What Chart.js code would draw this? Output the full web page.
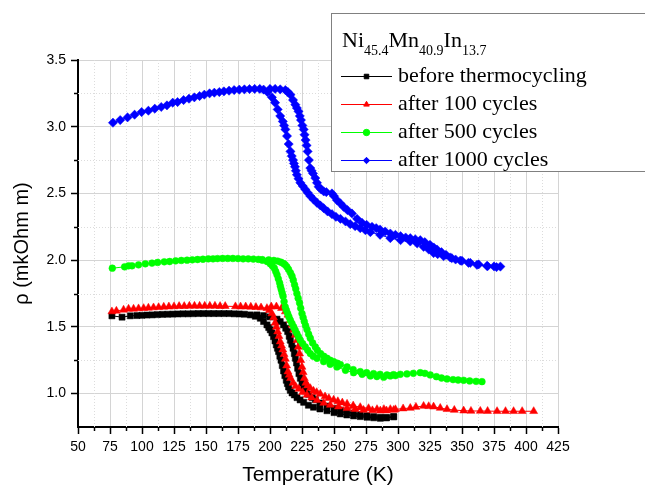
<!DOCTYPE html>
<html>
<head>
<meta charset="utf-8">
<script src="https://cdn.jsdelivr.net/npm/chart.js@4/dist/chart.umd.min.js"></script>
<style>
    html, body { margin: 0; padding: 0; background: #fff; }
</style>
</head>
<body>
<canvas id="rho_chart" width="645" height="485"></canvas>
<script>
// axis ticks
const xTicks = [50, 75, 100, 125, 150, 175, 200, 225, 250, 275, 300, 325, 350, 375, 400, 425];
const xMinorTicks = [62.5, 87.5, 112.5, 137.5, 162.5, 187.5, 212.5, 237.5, 262.5, 287.5, 312.5, 337.5, 362.5, 387.5, 412.5];
const yTicks = [1.0, 1.5, 2.0, 2.5, 3.0, 3.5];
const yMinorTicks = [1.25, 1.75, 2.25, 2.75, 3.25];

const legendTitle = [['Ni', false], ['45.4', true], ['Mn', false], ['40.9', true], ['In', false], ['13.7', true]];
const seriesNames = ['before thermocycling', 'after 100 cycles', 'after 500 cycles', 'after 1000 cycles'];
const seriesColors = ['#000000', '#ff0000', '#00ff00', '#0000ff'];
const seriesMarkers = ['rect', 'triangle', 'circle', 'rectRot'];

// [T (K), rho (mkOhm m)] - cooling branch (incl. low temperature part) and heating branch
const blackCooling = [[76.5,1.583],[84.4,1.573],[90.9,1.583],[96.1,1.585],[100,1.587],[104,1.589],[108,1.59],[112,1.592],[116,1.594],[120,1.595],[124,1.596],[128,1.597],[132,1.598],[136,1.598],[140,1.599],[144,1.6],[148,1.6],[152,1.6],[156,1.6],[160,1.6],[164,1.6],[168,1.6],[172,1.598],[176,1.597],[180,1.595],[184.6,1.59],[188.5,1.58],[192.4,1.565],[195,1.54],[197.6,1.515],[199,1.495],[200.2,1.478],[201.5,1.455],[202.8,1.427],[203.9,1.395],[204.9,1.365],[205.8,1.34],[206.7,1.315],[207.7,1.28],[208.6,1.25],[209.6,1.21],[210.6,1.17],[211.6,1.135],[212.7,1.10],[213.6,1.075],[214.5,1.05],[215.8,1.025],[217.2,1.005],[219,0.99],[221.1,0.97],[223.5,0.953],[226.3,0.935],[230,0.913],[234,0.898],[239,0.885],[244.5,0.872],[250,0.858],[254.9,0.848],[260,0.84],[265.3,0.833],[270.5,0.828],[275.8,0.823],[281,0.819],[286.2,0.815],[291,0.818],[296.6,0.827]];
const blackHeating = [[189.8,1.59],[195,1.585],[200,1.575],[205.5,1.558],[208,1.54],[210.6,1.515],[212.3,1.49],[213.8,1.465],[215,1.43],[215.9,1.40],[217,1.37],[218,1.34],[219,1.30],[219.8,1.265],[220.7,1.23],[221.6,1.19],[222.6,1.15],[223.7,1.115],[225,1.08],[226.3,1.045],[228,1.02],[230.2,0.995],[233,0.97],[235.4,0.955],[239,0.93],[244.5,0.907],[250,0.89],[254.9,0.877],[260,0.865],[265.3,0.853],[270.5,0.843],[275.8,0.835],[281,0.828],[286.2,0.823],[291,0.822],[296.6,0.827]];

const redCooling = [[76.5,1.615],[80,1.62],[85.6,1.628],[89.5,1.635],[93.4,1.635],[97.3,1.638],[101.3,1.64],[105,1.643],[109,1.645],[113,1.647],[117,1.65],[121,1.652],[125,1.653],[129,1.655],[133,1.655],[137,1.657],[141,1.657],[145,1.657],[149,1.657],[153,1.657],[157,1.657],[161,1.655],[165,1.655],[173,1.653],[177,1.652],[181,1.652],[185,1.65],[189,1.648],[193,1.645],[197.6,1.64],[199.5,1.625],[201.5,1.60],[202.8,1.57],[204,1.53],[205,1.50],[206,1.465],[207,1.43],[208,1.39],[209,1.36],[210,1.33],[211,1.295],[212,1.26],[213,1.21],[214,1.165],[215,1.14],[216,1.115],[218,1.08],[220,1.055],[222.5,1.035],[225.5,1.01],[228.9,0.99],[232.5,0.97],[236.7,0.95],[242,0.93],[247.1,0.915],[253.5,0.902],[260.2,0.89],[266.5,0.883],[273.1,0.877],[280,0.874],[286.2,0.872],[291,0.873],[296.6,0.877]];
const redHeating = [[201,1.652],[205,1.652],[209,1.64],[212,1.615],[214,1.59],[215.9,1.55],[217.3,1.515],[218.5,1.478],[219.8,1.44],[221.1,1.40],[222.1,1.35],[223.1,1.30],[224,1.25],[225,1.20],[225.9,1.16],[226.8,1.115],[228,1.08],[229.4,1.06],[231.5,1.04],[234,1.02],[236.5,1.01],[239.3,0.998],[243,0.978],[246,0.965],[249.7,0.953],[253,0.942],[256.5,0.932],[260.2,0.923],[265,0.91],[270.5,0.898],[277,0.89],[283.6,0.883],[289,0.883],[294,0.883],[298,0.882],[304,0.888],[309.6,0.892],[314,0.9],[320,0.907],[324,0.905],[327.8,0.902],[333,0.892],[338.3,0.883],[344,0.877],[351.3,0.872],[357,0.87],[364.3,0.87],[370,0.869],[377.4,0.868],[384,0.868],[390.3,0.868],[397,0.868],[406,0.868]];

const greenCooling = [[76.8,1.94],[86.4,1.95],[89.5,1.958],[92.2,1.958],[97.3,1.965],[102.6,1.973],[107.8,1.978],[112.2,1.983],[117.4,1.988],[121.6,1.99],[126.3,1.995],[130.7,1.998],[135.2,2.0],[139.3,2.003],[143.4,2.005],[147.6,2.007],[151.8,2.01],[155.5,2.01],[159,2.012],[163,2.013],[167,2.013],[171,2.013],[175,2.012],[179,2.01],[183,2.01],[187,2.008],[191,2.006],[194,2.0],[197.7,1.99],[200.2,1.973],[201.8,1.958],[203.4,1.94],[204.5,1.915],[205.5,1.89],[206.5,1.86],[207.5,1.83],[208.1,1.805],[208.8,1.78],[209.5,1.755],[210.2,1.73],[211,1.69],[211.9,1.65],[212.8,1.625],[213.8,1.60],[214.8,1.575],[215.9,1.55],[217.2,1.525],[218.5,1.50],[219.7,1.475],[221,1.45],[222.3,1.425],[223.7,1.40],[225.5,1.375],[227.6,1.35],[229.5,1.325],[231.5,1.30],[233.8,1.28],[236.7,1.265],[241.9,1.24],[247,1.22],[252.3,1.20],[259,1.175],[265.3,1.157],[272,1.145],[278.4,1.133],[283.5,1.128],[288.8,1.123],[294,1.133],[298,1.135]];
const greenHeating = [[194,2.004],[199,2.002],[203,1.998],[206,1.993],[208.5,1.985],[210.5,1.975],[211.9,1.965],[213.2,1.95],[214.5,1.93],[216,1.905],[217.2,1.88],[218.2,1.85],[219.2,1.815],[220.1,1.785],[221,1.75],[222,1.715],[223.1,1.68],[224,1.64],[225,1.60],[225.9,1.57],[226.8,1.54],[227.8,1.51],[228.9,1.48],[230.2,1.445],[231.5,1.415],[233.3,1.38],[235.4,1.35],[237,1.325],[239.5,1.30],[242,1.28],[244.5,1.265],[247,1.25],[249.7,1.24],[252.5,1.228],[255,1.218],[260.2,1.20],[265,1.18],[270.5,1.165],[275.5,1.157],[280.9,1.15],[286,1.145],[291.4,1.14],[296.5,1.142],[301.8,1.145],[307,1.148],[312,1.152],[317.4,1.157],[321,1.152],[325.2,1.14],[330,1.127],[334,1.117],[338.3,1.11],[343,1.105],[347,1.102],[351.3,1.10],[356,1.095],[361,1.092],[365.6,1.09]];

const blueCooling = [[77.3,3.03],[83,3.05],[88.7,3.07],[94.2,3.09],[99.7,3.11],[105,3.12],[110,3.135],[115,3.148],[119.5,3.16],[124,3.18],[127.8,3.185],[132.5,3.20],[136.7,3.21],[140.9,3.22],[145,3.23],[148.7,3.24],[152.8,3.25],[156.5,3.255],[160.4,3.26],[164,3.265],[168,3.27],[172,3.275],[176,3.278],[180,3.28],[184,3.282],[188,3.283],[192,3.283],[195,3.278],[198,3.26],[201.5,3.22],[204,3.18],[206,3.13],[208,3.08],[210,3.04],[211,3.01],[212,2.98],[213.3,2.93],[214.6,2.87],[216,2.815],[217,2.78],[218,2.75],[218.7,2.725],[219.5,2.70],[220.2,2.67],[221,2.64],[222.3,2.61],[223.7,2.58],[225.6,2.555],[227.6,2.53],[229.5,2.505],[231.5,2.48],[234,2.455],[236.7,2.43],[239.3,2.41],[241.9,2.39],[245,2.365],[248.4,2.345],[251.5,2.325],[255,2.31],[259,2.29],[262.7,2.27],[266.5,2.255],[270.5,2.24],[274.5,2.225],[278.4,2.21],[286,2.19],[294,2.165],[302,2.15],[309.6,2.14],[315,2.125],[320,2.10],[324,2.08],[327.8,2.053],[331,2.045],[335.6,2.03],[342,2.015],[348.7,1.997],[355,1.98],[361.7,1.965],[370,1.955],[377,1.948]];
const blueHeating = [[200,3.283],[204,3.283],[208,3.28],[212,3.275],[214,3.26],[216,3.24],[218,3.20],[219.8,3.165],[221,3.14],[222.3,3.115],[223.3,3.08],[224.2,3.05],[225.3,3.01],[226.3,2.98],[227,2.94],[227.8,2.90],[228.6,2.86],[229.4,2.815],[230.4,2.75],[231.5,2.69],[232.5,2.67],[233.6,2.65],[235.4,2.615],[236.7,2.58],[238,2.55],[240,2.53],[242,2.515],[244,2.51],[248.4,2.50],[250,2.48],[252.3,2.45],[255,2.425],[257.5,2.40],[260.5,2.375],[264,2.35],[268,2.31],[271.9,2.28],[275.5,2.265],[279.7,2.25],[283,2.24],[286,2.23],[290,2.215],[294,2.20],[298,2.19],[302,2.18],[306,2.17],[309.6,2.165],[313.5,2.157],[317.4,2.15],[321,2.135],[325,2.115],[328,2.095],[330.5,2.08],[334,2.06],[337.5,2.04],[340.8,2.02],[345,2.005],[350,1.995],[356.5,1.98],[363,1.968],[369.5,1.957],[375,1.953],[380,1.952]];

const seriesBranches = [
    [blackCooling, blackHeating],
    [redCooling, redHeating],
    [greenCooling, greenHeating],
    [blueCooling, blueHeating]
];
const markerRadius = [4.3, 4.6, 3.4, 4.6];

function toPoints(pairs) {
    return pairs.map(p => ({x: p[0], y: p[1]}));
}

let myDataSet = [];
for (let i = 0; i < seriesBranches.length; i++) {
    for (let j = 0; j < 2; j++) {
        myDataSet.push({
            label: seriesNames[i],
            data: toPoints(seriesBranches[i][j]),
            showLine: true,
            borderColor: seriesColors[i],
            backgroundColor: seriesColors[i],
            borderWidth: 1,
            pointStyle: seriesMarkers[i],
            pointRadius: markerRadius[i],
            pointBorderWidth: 0.5,
            order: seriesBranches.length - i   // blue on top, black at the bottom
        });
    }
}

// dotted minor grid + short minor ticks
const minorGrid = {
    id: 'minorGrid',
    beforeDatasetsDraw(chart) {
        const {ctx, chartArea: a, scales: {x, y}} = chart;
        ctx.save();
        ctx.strokeStyle = '#dcdcdc';
        ctx.lineWidth = 1;
        ctx.setLineDash([1, 2]);
        xMinorTicks.forEach(v => {
            const px = Math.round(x.getPixelForValue(v)) + 0.5;
            ctx.beginPath(); ctx.moveTo(px, a.top); ctx.lineTo(px, a.bottom); ctx.stroke();
        });
        yMinorTicks.forEach(v => {
            const py = Math.round(y.getPixelForValue(v)) + 0.5;
            ctx.beginPath(); ctx.moveTo(a.left, py); ctx.lineTo(a.right, py); ctx.stroke();
        });
        ctx.setLineDash([]);
        ctx.strokeStyle = '#000';
        ctx.lineWidth = 1.5;
        xMinorTicks.forEach(v => {
            const px = Math.round(x.getPixelForValue(v)) + 0.5;
            ctx.beginPath(); ctx.moveTo(px, a.bottom); ctx.lineTo(px, a.bottom + 4); ctx.stroke();
        });
        yMinorTicks.forEach(v => {
            const py = Math.round(y.getPixelForValue(v)) + 0.5;
            ctx.beginPath(); ctx.moveTo(a.left, py); ctx.lineTo(a.left - 4, py); ctx.stroke();
        });
        ctx.restore();
    }
};

// boxed legend with the alloy formula as its title
const legendBox = {
    id: 'legendBox',
    afterDraw(chart) {
        const ctx = chart.ctx;
        ctx.save();
        ctx.fillStyle = '#fff';
        ctx.fillRect(331, 13, 320, 159);
        ctx.strokeStyle = '#808080';
        ctx.lineWidth = 1;
        ctx.strokeRect(331.5, 13.5, 330, 158);

        ctx.fillStyle = '#000';
        ctx.textBaseline = 'alphabetic';
        let x = 342;
        legendTitle.forEach(([txt, sub]) => {
            ctx.font = sub ? '14px "Liberation Serif"' : '22px "Liberation Serif"';
            ctx.fillText(txt, x, sub ? 55 : 47);
            x += ctx.measureText(txt).width;
        });

        for (let i = 0; i < seriesNames.length; i++) {
            const ly = 76 + i * 28;
            ctx.strokeStyle = seriesColors[i];
            ctx.fillStyle = seriesColors[i];
            ctx.lineWidth = 1;
            ctx.beginPath(); ctx.moveTo(341, ly + 0.5); ctx.lineTo(392, ly + 0.5); ctx.stroke();
            Chart.helpers.drawPoint(ctx, {pointStyle: seriesMarkers[i], radius: 3.2, rotation: 0, borderWidth: 0.5}, 366.5, ly + 0.5);
            ctx.fillStyle = '#000';
            ctx.font = '22px "Liberation Serif"';
            ctx.fillText(seriesNames[i], 398, ly + 6);
        }
        ctx.restore();
    }
};

const ctx = document.getElementById('rho_chart');

new Chart(ctx, {
    type: 'scatter',
    data: { datasets: myDataSet },
    options: {
        responsive: false,
        animation: false,
        layout: { padding: { top: 60, right: 87, left: 0, bottom: 0 } },
        plugins: {
            legend: { display: false },
            tooltip: { enabled: false }
        },
        scales: {
            x: {
                type: 'linear',
                min: 50,
                max: 425,
                afterFit: scale => { scale.height = 58; },
                afterBuildTicks: scale => { scale.ticks = xTicks.map(v => ({value: v})); },
                border: { color: '#000', width: 2 },
                grid: { color: '#d4d4d4', lineWidth: 1, tickColor: '#000', tickLength: 7, tickWidth: 1.5 },
                ticks: {
                    autoSkip: false, maxRotation: 0, padding: 5, color: '#000',
                    font: { family: '"Liberation Sans", Arial', size: 14 },
                    callback: v => String(v)
                },
                title: {
                    display: true, text: 'Temperature (K)', color: '#000',
                    font: { family: '"Liberation Sans", Arial', size: 21, lineHeight: 0.9 },
                    padding: { top: 0, bottom: 0 }
                }
            },
            y: {
                type: 'linear',
                min: 0.75,
                max: 3.5,
                afterFit: scale => { scale.width = 78; },
                afterBuildTicks: scale => { scale.ticks = yTicks.map(v => ({value: v})); },
                border: { color: '#000', width: 2 },
                grid: { color: '#d4d4d4', lineWidth: 1, tickColor: '#000', tickLength: 7, tickWidth: 1.5 },
                ticks: {
                    padding: 5, color: '#000',
                    font: { family: '"Liberation Sans", Arial', size: 14 },
                    callback: v => Number(v).toFixed(1)
                },
                title: {
                    display: true, text: 'ρ (mkOhm m)', color: '#000',
                    font: { family: '"Liberation Sans", Arial', size: 20, lineHeight: 1.2 },
                    padding: { top: 10, bottom: 0 }
                }
            }
        }
    },
    plugins: [minorGrid, legendBox]
});
</script>
</body>
</html>
